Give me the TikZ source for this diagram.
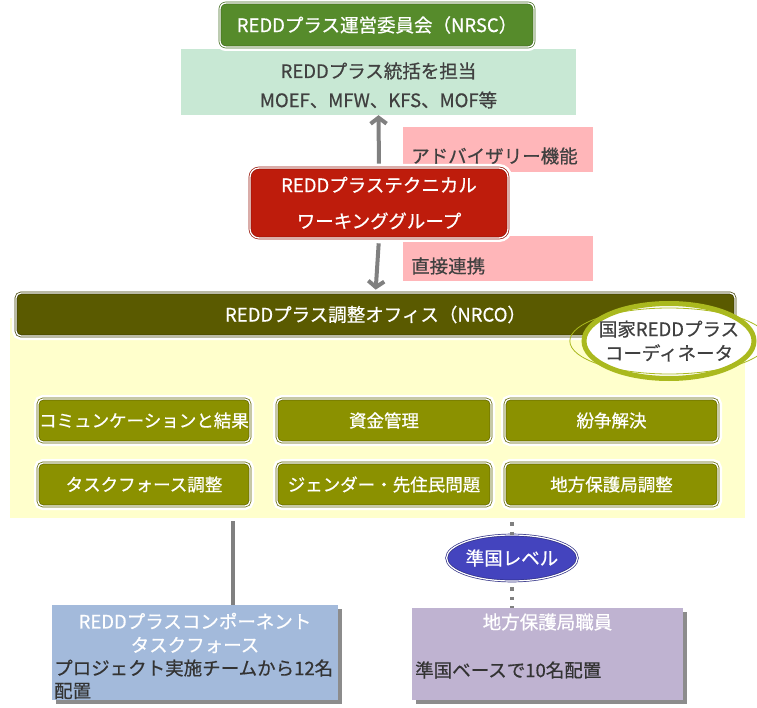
\documentclass[tikz,border=0pt]{standalone}
\usepackage{fontspec}
\setmainfont{Noto Sans CJK JP}[FakeBold=0.6]
\usetikzlibrary{arrows.meta,shapes.geometric,shadows}
\definecolor{nrscg}{RGB}{86,139,43}
\definecolor{lgreen}{RGB}{200,232,212}
\definecolor{pinkc}{RGB}{255,182,185}
\definecolor{redc}{RGB}{190,28,12}
\definecolor{nrcoc}{RGB}{90,90,0}
\definecolor{ybg}{RGB}{255,255,204}
\definecolor{ellc}{RGB}{170,185,30}
\definecolor{btnc}{RGB}{139,145,0}
\definecolor{bluee}{RGB}{68,68,190}
\definecolor{blueb}{RGB}{163,186,219}
\definecolor{purpb}{RGB}{191,179,209}
\definecolor{shd}{RGB}{140,140,140}
\definecolor{txtg}{RGB}{64,64,64}
\definecolor{arrg}{RGB}{128,128,128}
\newcommand\fs{\fontsize{17.5}{20}\selectfont}
\newcommand\fsl{\fontsize{18.5}{22}\selectfont}
\begin{document}
\begin{tikzpicture}[x=1pt,y=-1pt,
  dbox/.style={rectangle, inner sep=0pt, line width=0.7pt, double=white, double distance=1.3pt,
    preaction={draw=white, line width=8pt}, text=white, font=\fsl, align=center},
  btn/.style={dbox, rounded corners=5pt, fill=btnc, draw=btnc!70!black, minimum height=43pt, font=\fs},
  plain/.style={rectangle, inner sep=0pt},
  dark/.style={text=txtg, font=\fsl, inner sep=0pt},
  wtxt/.style={text=white, font=\fsl, inner sep=0pt},
  arr/.style={draw=arrg, line width=4pt, -{Straight Barb[length=6pt,width=16pt]}},
  dots/.style={draw=arrg, line width=3.5pt, dash pattern=on 3.5pt off 6pt},
  shbox/.style={rectangle, inner sep=0pt, drop shadow={shadow xshift=4pt, shadow yshift=-4pt, fill=shd, opacity=1}}
]
\useasboundingbox (0,0) rectangle (757,708);
\fill[white] (0,0) rectangle (757,708);

% top
\node[plain, fill=lgreen, minimum width=395pt, minimum height=66pt] (lg) at (378.5,82) {};
\node[dark] (lgt1) at (378.5,71) {REDDプラス統括を担当};
\node[dark] (lgt2) at (378.5,100) {MOEF、MFW、KFS、MOF等};
\node[dbox, rounded corners=6pt, fill=nrscg, draw=nrscg!80!black, minimum width=314pt, minimum height=44pt] (nrsc) at (377,25) {REDDプラス運営委員会（NRSC）};

% pink
\node[plain, fill=pinkc, minimum width=190pt, minimum height=45pt] (pk1) at (498,149.5) {};
\node[dark, anchor=west] (pk1t) at (411,156) {アドバイザリー機能};
\node[plain, fill=pinkc, minimum width=190pt, minimum height=45pt] (pk2) at (498,258.5) {};
\node[dark, anchor=west] (pk2t) at (411,266) {直接連携};

% technical working group
\node[dbox, rounded corners=9pt, fill=redc, draw=redc!80!black, minimum width=258pt, minimum height=70pt,
  font=\fontsize{18.5}{36}\selectfont] (twg) at (379,203) {REDDプラステクニカル\\ワーキンググループ};

\draw[arr, shorten <=4pt] (twg.north) -- (lg.south);

% NRCO area
\node[plain, fill=ybg, minimum width=735pt, minimum height=200pt] (bg) at (377.5,418) {};
\node[dbox, rounded corners=5pt, fill=nrcoc, draw=nrcoc!70!black, minimum width=719pt, minimum height=43pt] (nrco) at (375.5,314.5) {REDDプラス調整オフィス（NRCO）};
\draw[arr, shorten <=5pt, shorten >=3pt] (twg.south) -- (nrco.north);

\node[ellipse, draw=ellc, line width=5pt, fill=white, minimum width=170pt, minimum height=75pt, inner sep=0pt] (coord) at (669,341) {};
\node[ellipse, draw=ellc, line width=0.8pt, minimum width=161pt, minimum height=66pt, inner sep=0pt,
  text=txtg, font=\fontsize{18.5}{24}\selectfont, align=center] (coordt) at (669,341) {国家REDDプラス\\コーディネータ};

% buttons
\node[btn, minimum width=212pt] (b11) at (144,420.5) {コミュンケーションと結果};
\node[btn, minimum width=214pt] (b12) at (384,420.5) {資金管理};
\node[btn, minimum width=213pt] (b13) at (611.5,420.5) {紛争解決};
\node[btn, minimum width=212pt] (b21) at (144,484.5) {タスクフォース調整};
\node[btn, minimum width=214pt] (b22) at (384,484.5) {ジェンダー・先住民問題};
\node[btn, minimum width=213pt] (b23) at (611.5,484.5) {地方保護局調整};

% lower boxes
\node[shbox, fill=blueb, minimum width=286pt, minimum height=95pt] (blue) at (195,652.5) {};
\node[wtxt] (bt1) at (195,621) {REDDプラスコンポーネント};
\node[wtxt] (bt2) at (195,645) {タスクフォース};
\node[dark, text=black!80, anchor=west] (bt3) at (54,668) {プロジェクト実施チームから12名};
\node[dark, text=black!80, anchor=west] (bt4) at (54,691) {配置};

\node[shbox, fill=purpb, minimum width=271pt, minimum height=92pt] (purp) at (547.5,654) {};
\node[wtxt] (pt1) at (547.5,622) {地方保護局職員};
\node[dark, text=black!80, anchor=west] (pt2) at (415,670) {準国ベースで10名配置};

% connectors
\coordinate (l1) at (233,521);
\draw[draw=arrg, line width=4pt] (l1) -- (l1 |- blue.north) ++(0,4);
\node[ellipse, fill=bluee, draw=bluee!70!black, line width=0.7pt, double=white, double distance=1.2pt,
  minimum width=122pt, minimum height=46pt, inner sep=0pt, text=white, font=\fsl] (sub) at (512,558) {準国レベル};
\coordinate (d1) at (512,522);
\draw[dots] (d1) -- (sub.north);
\draw[dots] (sub.south) ++(0,6) -- (sub.south |- purp.north);
\end{tikzpicture}
\end{document}
